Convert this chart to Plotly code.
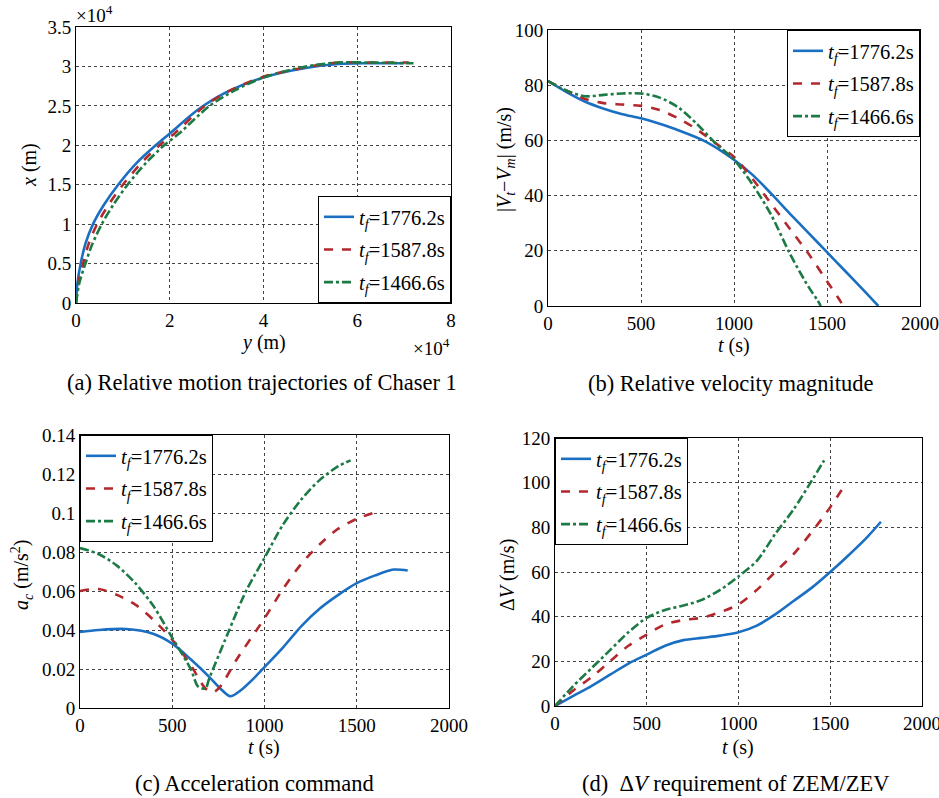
import plotly.graph_objects as go

W, H = 939, 798
FONT = "Liberation Serif"

labels = ["<i>t</i><sub><i>f</i></sub>=1776.2s",
          "<i>t</i><sub><i>f</i></sub>=1587.8s",
          "<i>t</i><sub><i>f</i></sub>=1466.6s"]
colors = ["#1b6fc2", "#b3282d", "#1c7a45"]
dashes = ["solid", "dash", "dashdot"]

# (a) trajectories, units of 1e4 m
a_y_blue = [0, 0.03, 0.1, 0.2, 0.37, 0.6, 0.9, 1.3, 1.7, 2.0, 2.6, 3.2, 4.0, 4.9, 5.6, 6.2, 7.0]
a_x_blue = [0, 0.25, 0.5, 0.75, 1.01, 1.25, 1.5, 1.78, 2.0, 2.15, 2.45, 2.67, 2.86, 2.98, 3.03, 3.04, 3.04]
a_y_red = [0, 0.05, 0.15, 0.27, 0.45, 0.7, 1.0, 1.4, 1.78, 2.1, 2.75, 3.3, 4.0, 4.9, 5.6, 6.2, 7.1]
a_x_red = [0, 0.25, 0.5, 0.75, 1.0, 1.25, 1.5, 1.78, 2.0, 2.15, 2.5, 2.7, 2.87, 2.99, 3.05, 3.05, 3.05]
a_y_green = [0, 0.07, 0.2, 0.35, 0.55, 0.8, 1.1, 1.5, 1.88, 2.2, 2.85, 3.4, 4.05, 4.9, 5.6, 6.2, 7.2]
a_x_green = [0, 0.25, 0.5, 0.75, 1.0, 1.25, 1.5, 1.78, 2.0, 2.15, 2.5, 2.7, 2.87, 3.0, 3.05, 3.05, 3.04]

# (b) relative velocity magnitude
b_t_blue = [0, 100, 200, 300, 400, 500, 600, 700, 850, 1000, 1100, 1200, 1300, 1400, 1500, 1600, 1700, 1776.2]
b_v_blue = [81.5, 77.5, 74, 71.5, 69.5, 68, 66, 63.7, 59.5, 53, 47.5, 40.7, 33.5, 26.5, 19.5, 12.5, 5.5, 0]
b_t_red = [0, 100, 200, 300, 400, 500, 600, 700, 800, 900, 1000, 1100, 1200, 1300, 1400, 1500, 1560, 1587.8]
b_v_red = [81.5, 78, 75, 73.5, 73, 72.5, 71, 68, 64, 59, 54, 46, 37, 28, 19, 9, 3, 0]
b_t_green = [0, 100, 200, 300, 400, 500, 600, 700, 800, 900, 1000, 1100, 1200, 1300, 1400, 1450, 1466.6]
b_v_green = [81.5, 78, 76, 76.5, 77, 77, 75.5, 72, 66, 59, 53, 44, 33, 19, 7, 2, 0]

# (c) acceleration command
c_t_blue = [0, 100, 250, 400, 500, 600, 700, 760, 815, 870, 950, 1000, 1100, 1200, 1300, 1400, 1500, 1600, 1700, 1776.2]
c_a_blue = [0.039, 0.040, 0.0405, 0.038, 0.033, 0.025, 0.016, 0.010, 0.006, 0.009, 0.016, 0.021, 0.031, 0.042, 0.051, 0.058, 0.064, 0.068, 0.071, 0.0705]
c_t_red = [0, 100, 200, 300, 400, 500, 600, 680, 720, 760, 850, 1000, 1100, 1200, 1300, 1400, 1500, 1587.8]
c_a_red = [0.060, 0.061, 0.058, 0.053, 0.045, 0.035, 0.022, 0.010, 0.008, 0.011, 0.025, 0.046, 0.061, 0.074, 0.084, 0.092, 0.097, 0.100]
c_t_green = [0, 100, 200, 300, 400, 500, 600, 640, 680, 700, 800, 900, 1000, 1100, 1200, 1300, 1400, 1466.6]
c_a_green = [0.082, 0.079, 0.073, 0.064, 0.052, 0.036, 0.020, 0.011, 0.010, 0.015, 0.038, 0.060, 0.077, 0.094, 0.107, 0.117, 0.124, 0.127]

# (d) delta V
d_t_blue = [0, 100, 200, 300, 400, 500, 600, 700, 800, 900, 1000, 1100, 1200, 1300, 1400, 1500, 1600, 1700, 1776.2]
d_v_blue = [0, 4.5, 9, 14, 19, 23, 27, 29.5, 30.5, 31.5, 33, 36, 41, 47, 53, 60, 67.5, 75.5, 82.5]
d_t_red = [0, 100, 200, 300, 400, 500, 600, 700, 800, 900, 1000, 1100, 1200, 1300, 1400, 1500, 1587.8]
d_v_red = [0, 7, 13, 20, 27, 32, 36.5, 38.5, 39.5, 42, 45.5, 52, 60, 68, 78, 89, 100]
d_t_green = [0, 100, 200, 300, 400, 500, 600, 700, 800, 900, 1000, 1100, 1200, 1300, 1400, 1466.6]
d_v_green = [0, 9, 17, 25, 33, 39.5, 43, 45, 47.5, 52, 58, 65, 77, 88, 101, 110]

fig = go.Figure()

panels = [
    ("x", "y", "legend", [(a_y_blue, a_x_blue), (a_y_red, a_x_red), (a_y_green, a_x_green)]),
    ("x2", "y2", "legend2", [(b_t_blue, b_v_blue), (b_t_red, b_v_red), (b_t_green, b_v_green)]),
    ("x3", "y3", "legend3", [(c_t_blue, c_a_blue), (c_t_red, c_a_red), (c_t_green, c_a_green)]),
    ("x4", "y4", "legend4", [(d_t_blue, d_v_blue), (d_t_red, d_v_red), (d_t_green, d_v_green)]),
]
for xa, ya, lg, series in panels:
    for i, (xs, ys) in enumerate(series):
        fig.add_trace(go.Scatter(
            x=xs, y=ys, mode="lines", xaxis=xa, yaxis=ya, name=labels[i],
            legend=lg, legendgroup=lg + str(i),
            line=dict(color=colors[i], width=2.6, dash=dashes[i], shape="spline", smoothing=0.8),
            showlegend=True))

def px_x(p):
    return p / W

def px_y(p):
    return 1 - p / H

axis_common = dict(showline=True, linecolor="black", linewidth=1, mirror=True,
                   showgrid=True, gridcolor="#444", gridwidth=1, griddash="dot",
                   zeroline=False, ticks="", automargin=False, ticklabeloverflow="allow",
                   tickfont=dict(family=FONT, size=19, color="black"))

layout = dict(
    template="none",
    width=W, height=H, margin=dict(l=0, r=0, t=0, b=0, autoexpand=False),
    paper_bgcolor="white", plot_bgcolor="white",
    font=dict(family=FONT, size=19, color="black"),
    xaxis=dict(domain=[px_x(76), px_x(451)], range=[0, 8], dtick=2, anchor="y", **axis_common),
    yaxis=dict(domain=[px_y(303), px_y(27)], range=[0, 3.5], dtick=0.5, anchor="x", **axis_common),
    xaxis2=dict(domain=[px_x(548), px_x(920)], range=[0, 2000], dtick=500, anchor="y2", **axis_common),
    yaxis2=dict(domain=[px_y(306), px_y(30)], range=[0, 100], dtick=20, anchor="x2", **axis_common),
    xaxis3=dict(domain=[px_x(80), px_x(449)], range=[0, 2000], dtick=500, anchor="y3", **axis_common),
    yaxis3=dict(domain=[px_y(708), px_y(435)], range=[0, 0.14], dtick=0.02, anchor="x3", **axis_common),
    xaxis4=dict(domain=[px_x(555), px_x(922)], range=[0, 2000], dtick=500, anchor="y4", **axis_common),
    yaxis4=dict(domain=[px_y(706), px_y(438)], range=[0, 120], dtick=20, anchor="x4", **axis_common),
)

leg_common = dict(bgcolor="white", bordercolor="black", borderwidth=1,
                  font=dict(family=FONT, size=20.5, color="black"), tracegroupgap=3,
                  itemwidth=30)
layout["legend"] = dict(x=px_x(451), y=px_y(303), xanchor="right", yanchor="bottom", **leg_common)
layout["legend2"] = dict(x=px_x(920), y=px_y(30), xanchor="right", yanchor="top", **leg_common)
layout["legend3"] = dict(x=px_x(80), y=px_y(435), xanchor="left", yanchor="top", **leg_common)
layout["legend4"] = dict(x=px_x(555), y=px_y(438), xanchor="left", yanchor="top", **leg_common)
fig.update_layout(**layout)

def ann(text, x, y, size=19, angle=0, xanchor="center", yanchor="middle"):
    fig.add_annotation(text=text, x=px_x(x), y=px_y(y), xref="paper", yref="paper",
                       showarrow=False, textangle=angle, xanchor=xanchor, yanchor=yanchor,
                       font=dict(family=FONT, size=size, color="black"))

# axis titles
ann("<i>y</i> (m)", 263, 342, 20)
ann("<i>x</i> (m)", 30, 165, 20, angle=-90)
ann("×10<sup>4</sup>", 74, 14, 19, xanchor="left")
ann("×10<sup>4</sup>", 452, 347, 19, xanchor="right")

ann("<i>t</i> (s)", 734, 346, 20)
ann("|<i>V</i><sub><i>t</i></sub>−<i>V</i><sub><i>m</i></sub>| (m/s)", 505, 160, 20, angle=-90)

ann("<i>t</i> (s)", 264, 747, 20)
ann("<i>a</i><sub><i>c</i></sub> (m/s<sup>2</sup>)", 22, 575, 20, angle=-90)

ann("<i>t</i> (s)", 738, 747, 20)
ann("Δ<i>V</i> (m/s)", 507, 575, 20, angle=-90)

# captions
ann("(a) Relative motion trajectories of Chaser 1", 262, 382, 22.5)
ann("(b) Relative velocity magnitude", 731, 383, 22.5)
ann("(c) Acceleration command", 255, 783, 22.5)
ann("(d)  Δ<i>V</i> requirement of ZEM/ZEV", 736, 783, 22.5)

fig.write_html("out.html")
